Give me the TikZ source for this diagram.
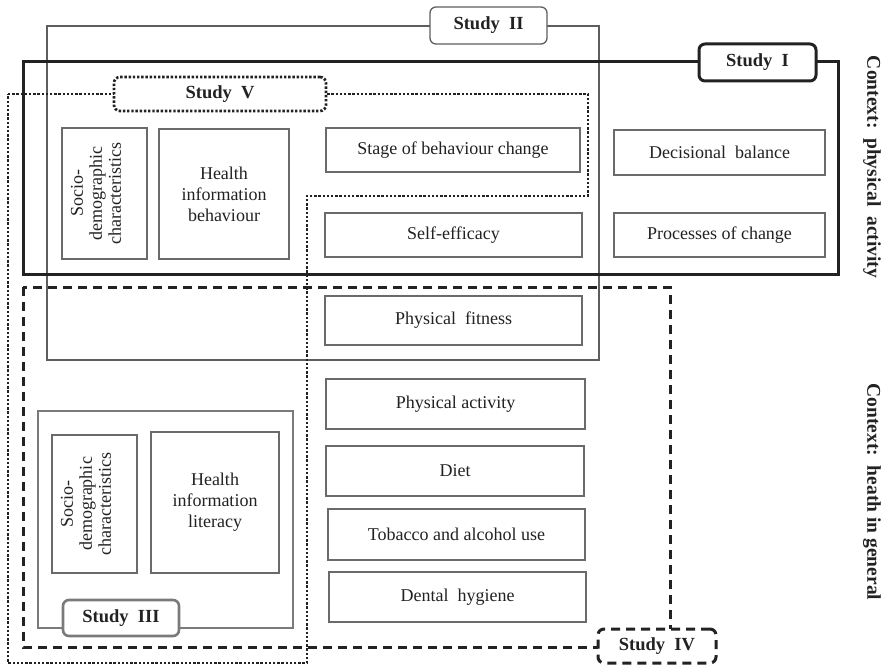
\documentclass[tikz,border=0pt]{standalone}
\usepackage{fontspec}
\setmainfont{Liberation Serif}
\definecolor{ink}{HTML}{222222}
\definecolor{boxgray}{HTML}{6A6A6A}
\definecolor{framegray}{HTML}{5E5E5E}
\definecolor{studygray}{HTML}{7A7A7A}
\tikzset{
  item/.style={draw=boxgray, line width=1.5pt, fill=white, align=center,
    text=ink, inner sep=0pt, font=\fontsize{18}{21}\selectfont},
  rottext/.style={rotate=90, align=center, text=ink, inner sep=0pt,
    font=\fontsize{18}{19}\selectfont},
  studylabel/.style={fill=white, rounded corners=6pt, text=ink, inner sep=0pt,
    font=\bfseries\fontsize{18.5}{20}\selectfont},
  frameII/.style={draw=framegray, line width=1.3pt},
  frameI/.style={draw=ink, line width=3pt},
  frameV/.style={draw=ink, line width=2.7pt, dash pattern=on 2.4pt off 1.8pt},
  frameIV/.style={draw=ink, line width=3pt, dash pattern=on 9pt off 6pt},
  frameIII/.style={draw=studygray, line width=2.6pt},
  context/.style={rotate=-90, text=ink, inner sep=0pt,
    font=\bfseries\fontsize{19.5}{21}\selectfont},
}
\begin{document}
\begin{tikzpicture}[x=1pt, y=-1pt]
\useasboundingbox (0,0) rectangle (884,666);

% study outlines
\draw[frameII] (47,26) rectangle (599,360);
\draw[frameI] (23,62) rectangle (838,274);
\draw[frameV] (8,94) -- (588,94) -- (588,196) -- (307,196) -- (307,663) -- (8,663) -- cycle;
\draw[frameIV] (23,287) rectangle (670,647);
\draw[frameIII] (38,411) rectangle (293,628);

% variables, upper part
\node[item, minimum width=85, minimum height=131] (sociotop) at (104.5,193.5) {};
\node[rottext] (sociotoptext) at (96,193.5) {Socio-\\demographic\\characteristics};
\node[item, minimum width=130, minimum height=130] (hib) at (224,194) {Health\\information\\behaviour};
\node[item, minimum width=254, minimum height=44] (stage) at (453,150) {Stage of behaviour change};
\node[item, minimum width=257, minimum height=44] (selfeff) at (453.5,235) {Self-efficacy};
\node[item, minimum width=211, minimum height=45] (decbal) at (719.5,152.5) {Decisional\ \ balance};
\node[item, minimum width=211, minimum height=44] (procch) at (719.5,235) {Processes of change};

% variables, lower part
\node[item, minimum width=257, minimum height=49] (fitness) at (453.5,320.5) {Physical\ \ fitness};
\node[item, minimum width=259, minimum height=50] (physact) at (455.5,404) {Physical activity};
\node[item, minimum width=258, minimum height=50] (diet) at (455,471) {Diet};
\node[item, minimum width=257, minimum height=51] (tobacco) at (456.5,534.5) {Tobacco and alcohol use};
\node[item, minimum width=257, minimum height=50] (dental) at (457.5,597) {Dental\ \ hygiene};
\node[item, minimum width=85, minimum height=138] (sociobot) at (94.5,504) {};
\node[rottext] (sociobottext) at (86,504) {Socio-\\demographic\\characteristics};
\node[item, minimum width=128, minimum height=141] (hil) at (215,502.5) {Health\\information\\literacy};

% study labels
\node[studylabel, draw=framegray, line width=1.3pt, minimum width=117, minimum height=37] (studyII) at (488.5,25.5) {Study\ \ II};
\node[studylabel, draw=ink, line width=3pt, minimum width=117, minimum height=37] (studyI) at (757.5,62.5) {Study\ \ I};
\node[studylabel, draw=ink, line width=2.7pt, dash pattern=on 2.4pt off 1.8pt, minimum width=212, minimum height=34] (studyV) at (220,94) {Study\ \ V};
\node[studylabel, draw=ink, line width=3pt, dash pattern=on 9pt off 6pt, minimum width=118, minimum height=34] (studyIV) at (657,646) {Study\ \ IV};
\node[studylabel, draw=studygray, line width=2.6pt, minimum width=116, minimum height=36] (studyIII) at (121,618) {Study\ \ III};

% context captions
\node[context] (ctxpa) at (872,167) {Context:\ \ physical\ \ activity};
\node[context] (ctxhg) at (872,492) {Context:\ \ heath in general};
\end{tikzpicture}
\end{document}
